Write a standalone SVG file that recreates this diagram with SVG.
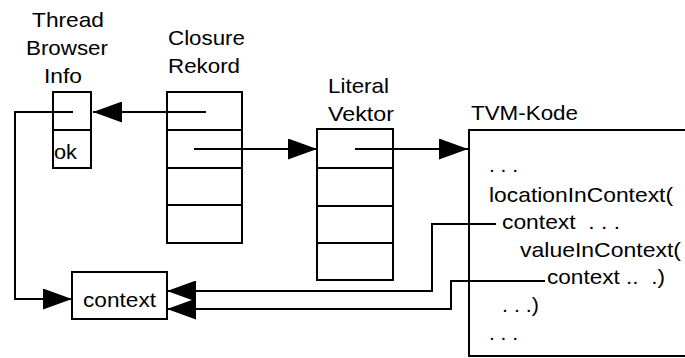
<svg xmlns="http://www.w3.org/2000/svg" width="685" height="358" viewBox="0 0 685 358">
<style>
  text { font-family: "Liberation Sans", Arial, sans-serif; font-size: 21px; fill: #000; white-space: pre; }
  .box { fill: #fff; stroke: #000; stroke-width: 2; }
  .div { stroke: #000; stroke-width: 2; fill: none; }
  .conn { stroke: #000; stroke-width: 2; fill: none; }
</style>
<defs>
  <marker id="arrow" viewBox="0 0 29 21" refX="29" refY="10.5" markerWidth="29" markerHeight="21" markerUnits="userSpaceOnUse" orient="auto">
    <path d="M0,0 L29,10.5 L0,21 z" fill="#000"/>
  </marker>
</defs>
<rect width="685" height="358" fill="#fff"/>

<g id="thread">
  <text x="32" y="27" textLength="72" lengthAdjust="spacingAndGlyphs">Thread</text>
  <text x="26" y="55" textLength="82" lengthAdjust="spacingAndGlyphs">Browser</text>
  <text x="44" y="83" textLength="38" lengthAdjust="spacingAndGlyphs">Info</text>
  <rect class="box" x="53" y="92" width="38" height="76"/>
  <line class="div" x1="53" y1="130" x2="91" y2="130"/>
  <text x="54" y="159" textLength="23" lengthAdjust="spacingAndGlyphs">ok</text>
</g>

<g id="closure">
  <text x="168" y="45" textLength="77" lengthAdjust="spacingAndGlyphs">Closure</text>
  <text x="168" y="73" textLength="72" lengthAdjust="spacingAndGlyphs">Rekord</text>
  <rect class="box" x="167" y="92" width="75" height="151"/>
  <line class="div" x1="167" y1="130" x2="242" y2="130"/>
  <line class="div" x1="167" y1="168" x2="242" y2="168"/>
  <line class="div" x1="167" y1="205" x2="242" y2="205"/>
</g>

<g id="literal">
  <text x="328" y="93" textLength="61" lengthAdjust="spacingAndGlyphs">Literal</text>
  <text x="328" y="121" textLength="66" lengthAdjust="spacingAndGlyphs">Vektor</text>
  <rect class="box" x="317" y="129" width="76" height="151"/>
  <line class="div" x1="317" y1="168" x2="393" y2="168"/>
  <line class="div" x1="317" y1="206" x2="393" y2="206"/>
  <line class="div" x1="317" y1="243" x2="393" y2="243"/>
</g>

<g id="tvm">
  <text x="471" y="120" textLength="107" lengthAdjust="spacingAndGlyphs">TVM-Kode</text>
  <rect class="box" x="469" y="130" width="230" height="226"/>
  <text x="489" y="172" textLength="29" lengthAdjust="spacingAndGlyphs">. . .</text>
  <text x="489" y="202" textLength="184" lengthAdjust="spacingAndGlyphs">locationInContext(</text>
  <text x="502" y="229" textLength="118" lengthAdjust="spacingAndGlyphs" xml:space="preserve">context  . . .</text>
  <text x="520" y="257" textLength="161" lengthAdjust="spacingAndGlyphs">valueInContext(</text>
  <text x="547" y="284" textLength="118" lengthAdjust="spacingAndGlyphs" xml:space="preserve">context ..  .)</text>
  <text x="502" y="312" textLength="37" lengthAdjust="spacingAndGlyphs">. . .)</text>
  <text x="489" y="340" textLength="29" lengthAdjust="spacingAndGlyphs">. . .</text>
</g>

<g id="context">
  <rect class="box" x="72" y="272" width="95" height="47"/>
  <text x="83" y="307" textLength="73" lengthAdjust="spacingAndGlyphs">context</text>
</g>

<g id="connectors">
  <path class="conn" d="M206,112 H93" marker-end="url(#arrow)"/>
  <path class="conn" d="M194,149 H317" marker-end="url(#arrow)"/>
  <path class="conn" d="M355,149 H468" marker-end="url(#arrow)"/>
  <path class="conn" d="M73,112 H15 V299 H72" marker-end="url(#arrow)"/>
  <path class="conn" d="M496,224 H432 V291 H167" marker-end="url(#arrow)"/>
  <path class="conn" d="M545,281 H451 V309 H167" marker-end="url(#arrow)"/>
</g>
</svg>
